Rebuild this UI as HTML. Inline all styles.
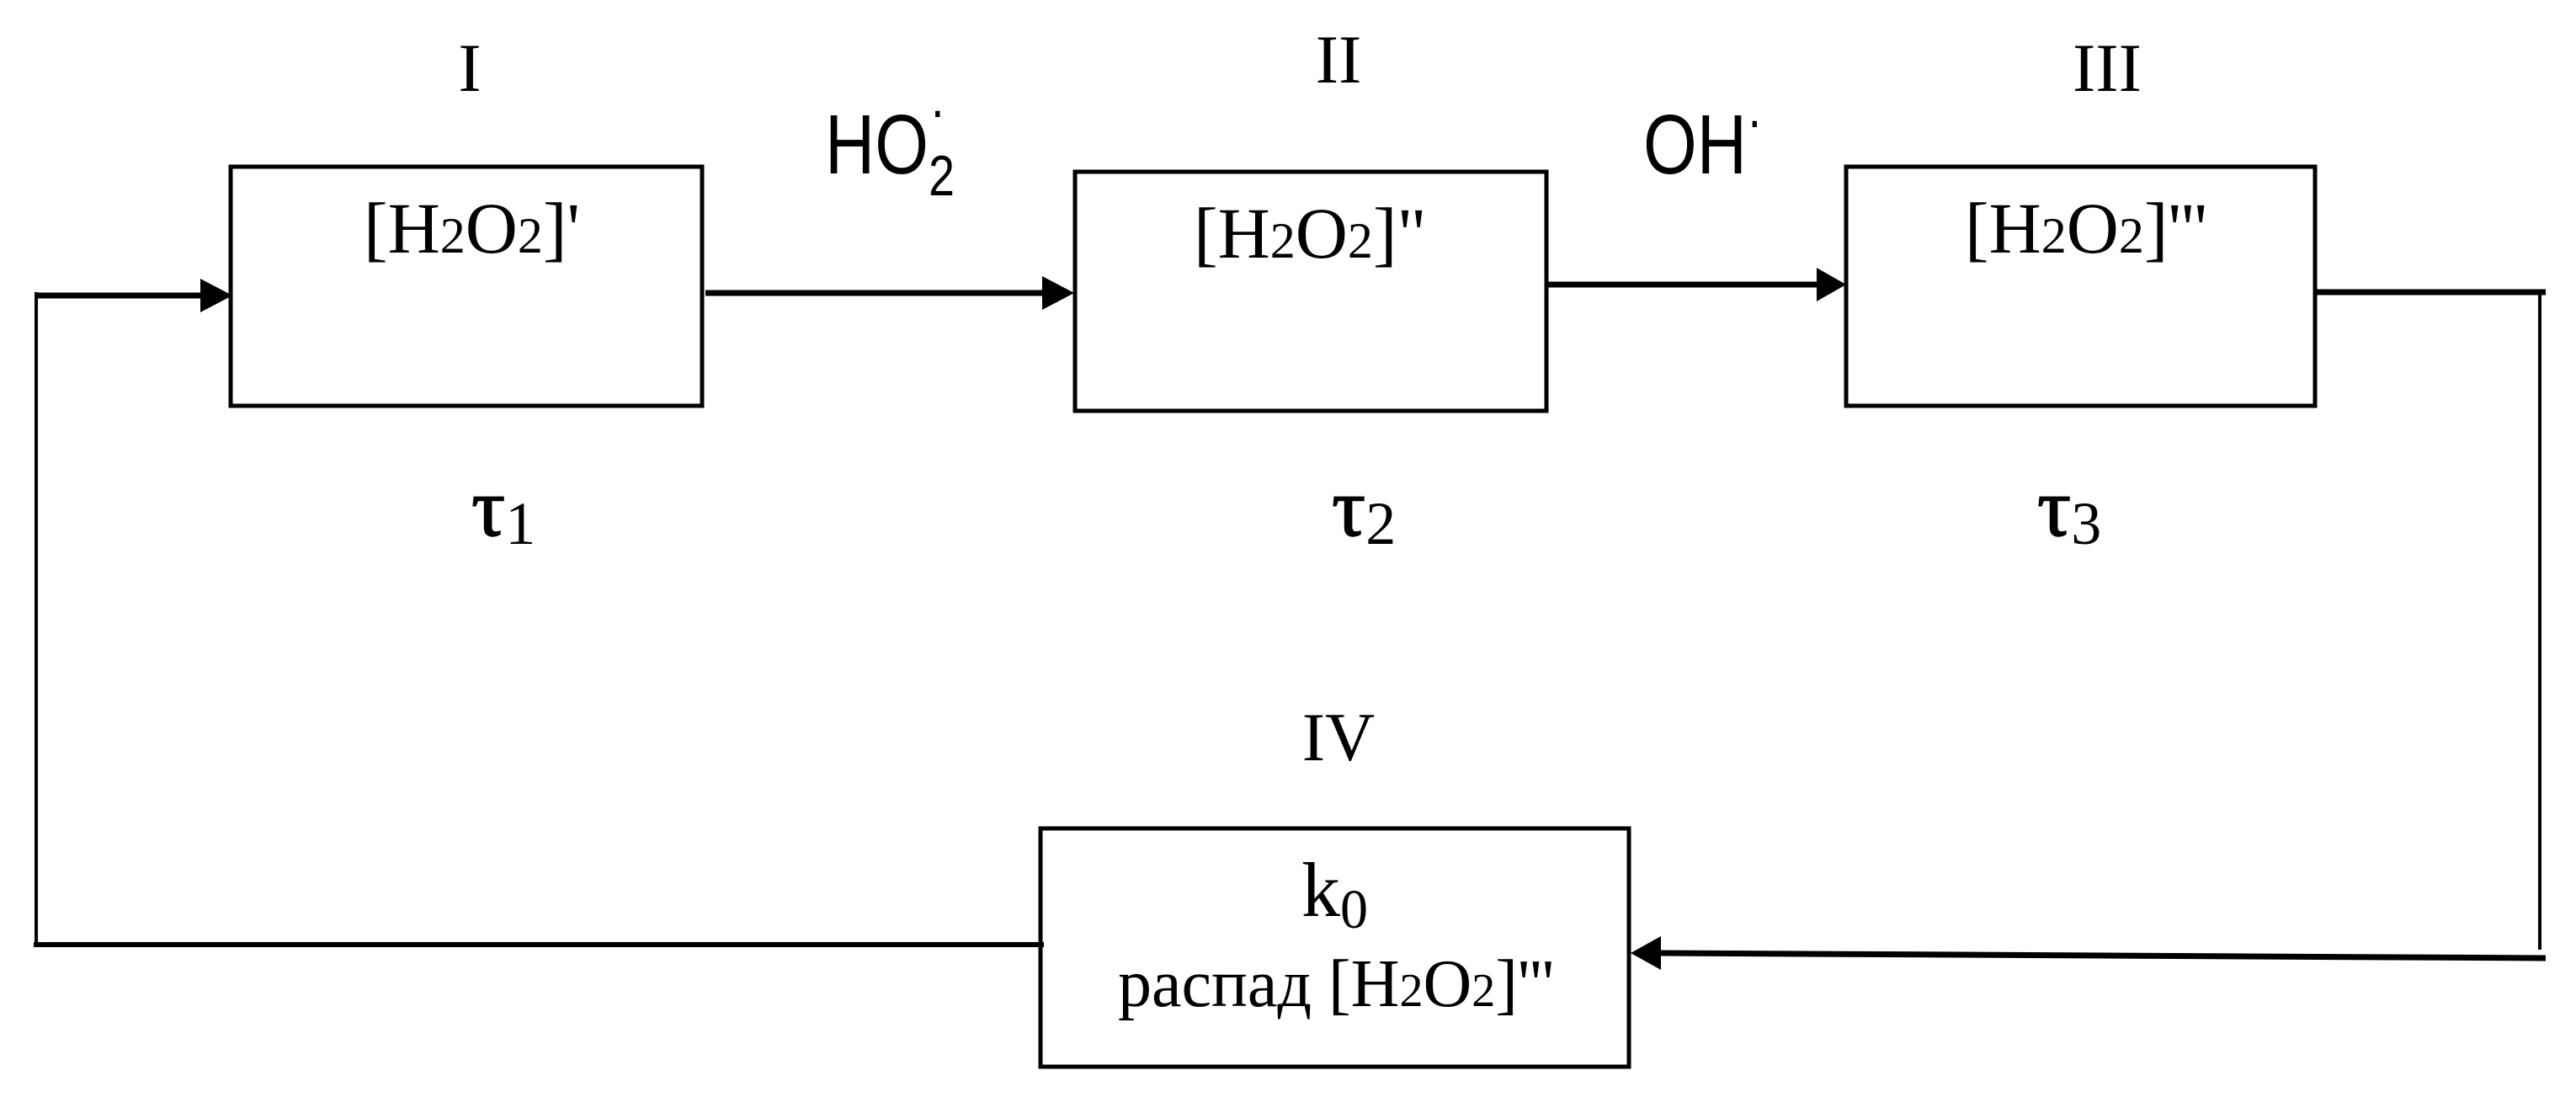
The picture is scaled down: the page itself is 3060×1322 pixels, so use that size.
<!DOCTYPE html>
<html><head><meta charset="utf-8"><style>
html,body{margin:0;padding:0;background:#fff;}
svg{display:block;}
text{font-family:"Liberation Serif",serif;fill:#000;}
.s{font-family:"Liberation Sans",sans-serif;}
</style></head><body>
<svg width="3060" height="1322" viewBox="0 0 3060 1322" xmlns="http://www.w3.org/2000/svg">
<g fill="none" stroke="#000">
<rect x="274" y="198" width="560" height="284" stroke-width="5"/>
<rect x="1277" y="204" width="560" height="284" stroke-width="5"/>
<rect x="2193" y="198" width="557" height="284" stroke-width="5"/>
<rect x="1236" y="984" width="699" height="283" stroke-width="5"/>
<line x1="43" y1="347" x2="43" y2="1122" stroke-width="4"/>
<line x1="43" y1="351" x2="250" y2="351" stroke-width="7"/>
<line x1="838" y1="348" x2="1252" y2="348" stroke-width="7"/>
<line x1="1838" y1="338" x2="2170" y2="338" stroke-width="7"/>
<line x1="2752" y1="347" x2="3024" y2="347" stroke-width="7"/>
<line x1="3017" y1="347" x2="3017" y2="1128" stroke-width="4"/>
<line x1="3024" y1="1138" x2="1970" y2="1132" stroke-width="7"/>
<line x1="40" y1="1122" x2="1240" y2="1122" stroke-width="6"/>
</g>
<g fill="#000">
<polygon points="238,331 276,351 238,371"/>
<polygon points="1238,328 1276,348 1238,368"/>
<polygon points="2158,318 2193,338 2158,358"/>
<polygon points="1973,1112 1937,1132 1973,1152"/>
</g>
<g font-size="82" text-anchor="middle">
<text x="558" y="108">I</text>
<text x="1590" y="98">II</text>
<text x="2503" y="108">III</text>
<text x="1590" y="903">IV</text>
</g>
<text class="s" x="980" y="206" font-size="100" transform="translate(980 0) scale(0.82 1) translate(-980 0)">HO<tspan font-size="68" dy="26">2</tspan><tspan font-size="68" dx="-36" dy="-78">·</tspan></text>
<text class="s" x="1952" y="206" font-size="100" transform="translate(1952 0) scale(0.82 1) translate(-1952 0)">OH<tspan font-size="68" dy="-40">·</tspan></text>
<g font-size="86">
<text x="432" y="300">[H<tspan font-size="60">2</tspan>O<tspan font-size="60">2</tspan>]'</text>
<text x="1418" y="306">[H<tspan font-size="60">2</tspan>O<tspan font-size="60">2</tspan>]"</text>
<text x="2334" y="300">[H<tspan font-size="60">2</tspan>O<tspan font-size="60">2</tspan>]'''</text>
</g>
<g font-size="100" stroke="#000" stroke-width="1.5">
<text x="560" y="636">τ<tspan font-size="72" dy="10" stroke-width="0">1</tspan></text>
<text x="1582" y="636">τ<tspan font-size="72" dy="10" stroke-width="0">2</tspan></text>
<text x="2420" y="636">τ<tspan font-size="72" dy="10" stroke-width="0">3</tspan></text>
</g>
<text x="1546" y="1088" font-size="92">k<tspan font-size="66" dy="14">0</tspan></text>
<text x="1328" y="1195" font-size="80">распад [H<tspan font-size="56">2</tspan>O<tspan font-size="56">2</tspan>]'''</text>
</svg>
</body></html>
